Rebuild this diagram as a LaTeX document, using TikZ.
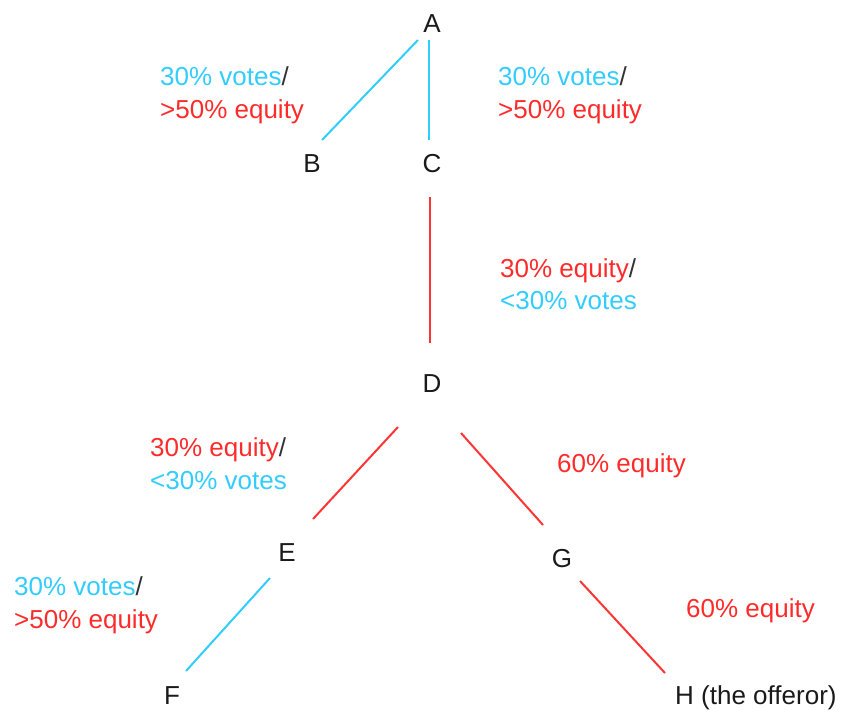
\documentclass[tikz,border=0pt]{standalone}
\usepackage{fontspec}
\setmainfont{Liberation Sans}
\usetikzlibrary{calc}
\definecolor{cblue}{HTML}{33CCFF}
\definecolor{cred}{HTML}{FF2B2B}
\definecolor{cline}{HTML}{FF3535}
\definecolor{cslash}{HTML}{333333}
\definecolor{ctext}{HTML}{1A1A1A}
\begin{document}
\begin{tikzpicture}[x=1pt,y=-1pt,
  ent/.style={inner sep=0pt,anchor=base,text=ctext,font=\fontsize{26}{33}\selectfont},
  lab/.style={inner sep=0pt,anchor=north west,align=left,font=\fontsize{26}{33}\selectfont},
  labone/.style={inner sep=0pt,anchor=base west,font=\fontsize{26}{33}\selectfont,text=cred},
  bl/.style={draw=cblue,line width=2pt},
  rd/.style={draw=cline,line width=2pt}]
\useasboundingbox (0,0) rectangle (842,709);
% entities
\node[ent] (A) at (432,33) {A};
\node[ent] (B) at (312,172) {B};
\node[ent] (C) at (432,172) {C};
\node[ent] (D) at (432,392) {D};
\node[ent] (E) at (287,561) {E};
\node[ent] (G) at (562,567) {G};
\node[ent] (F) at (172,704) {F};
\node[ent,anchor=base west] (H) at (675,704) {H (the offeror)};
% connectors
\draw[bl] ($(A.base)+(-14,7)$) -- ($(B.base)+(10,-32)$);
\draw[bl] ($(A.base)+(-3,7)$) -- ($(C.base)+(-3,-32)$);
\draw[rd] ($(C.base)+(-2,25)$) -- ($(D.base)+(-2,-49)$);
\draw[rd] ($(D.base)+(-34,35)$) -- ($(E.base)+(26,-42)$);
\draw[rd] ($(D.base)+(29,41)$) -- ($(G.base)+(-19,-42)$);
\draw[bl] ($(E.base)+(-17,17)$) -- ($(F.base)+(14,-33)$);
\draw[rd] ($(G.base)+(18,14)$) -- ($(H.base west)+(-10,-31)$);
% labels
\node[lab] (lab1) at (160,66) {{\color{cblue}30\% votes}{\color{cslash}/}\\{\color{cred}>50\% equity}};
\node[lab] (lab2) at (498,66) {{\color{cblue}30\% votes}{\color{cslash}/}\\{\color{cred}>50\% equity}};
\node[lab,font=\fontsize{26}{32}\selectfont] (lab3) at (500,258) {{\color{cred}30\% equity}{\color{cslash}/}\\{\color{cblue}<30\% votes}};
\node[lab] (lab4) at (150,437) {{\color{cred}30\% equity}{\color{cslash}/}\\{\color{cblue}<30\% votes}};
\node[labone] (lab5) at (557,472) {60\% equity};
\node[lab] (lab6) at (14,576) {{\color{cblue}30\% votes}{\color{cslash}/}\\{\color{cred}>50\% equity}};
\node[labone] (lab7) at (686,617) {60\% equity};
\end{tikzpicture}
\end{document}
